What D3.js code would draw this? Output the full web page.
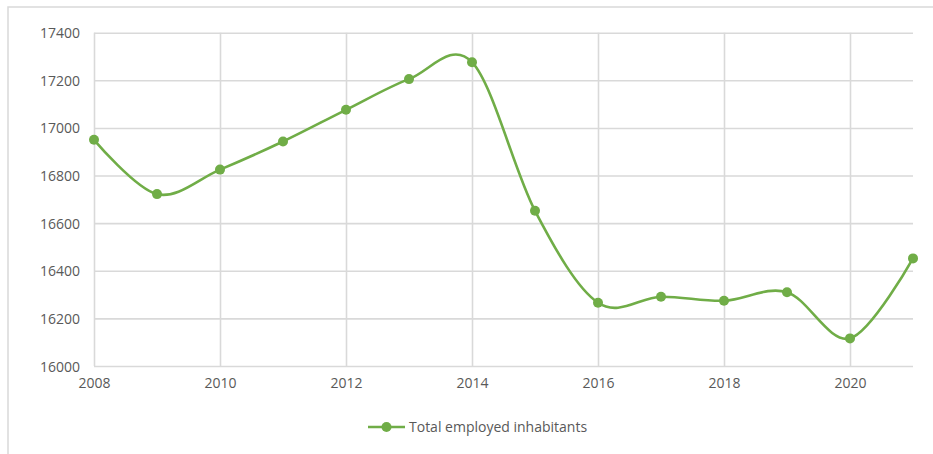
<!DOCTYPE html>
<html>
<head>
<meta charset="utf-8">
<script src="https://cdn.jsdelivr.net/npm/d3@7"></script>
<style>
  html, body { margin: 0; padding: 0; background: #fff; }
  svg { display: block; }
  text { font-family: "Open Sans", "Noto Sans", sans-serif; fill: #595959; }
</style>
</head>
<body>
<svg id="chart" width="933" height="454"></svg>
<script>
// Total employed inhabitants per year
const years = [2008, 2009, 2010, 2011, 2012, 2013, 2014, 2015, 2016, 2017, 2018, 2019, 2020, 2021];
const employed = [16950, 16722, 16825, 16943, 17076, 17205, 17276, 16652, 16266, 16291, 16274, 16310, 16116, 16452];
const yTicks = [16000, 16200, 16400, 16600, 16800, 17000, 17200, 17400];
const xTicks = [2008, 2010, 2012, 2014, 2016, 2018, 2020];
const seriesName = "Total employed inhabitants";

const green = "#70ad47";
const gridColor = "#d9d9d9";

const svg = d3.select("#chart");
const margin = { left: 94, right: 20, top: 32.7, bottom: 88 };
const W = 933, H = 454;

const x = d3.scaleLinear().domain([2008, 2021]).range([margin.left, 913]);
const y = d3.scaleLinear().domain([16000, 17400]).range([366, 32.7]);

// chart frame
svg.append("path")
  .attr("d", `M8,${H + 2} L8,7 L${W + 2},7`)
  .attr("fill", "none")
  .attr("stroke", gridColor)
  .attr("stroke-width", 1.5);

// horizontal gridlines + y labels
const yAxis = d3.axisLeft(y).tickValues(yTicks).tickSize(-(x.range()[1] - x.range()[0])).tickPadding(14).tickFormat(d3.format("d"));
const gy = svg.append("g").attr("transform", `translate(${margin.left},0)`).call(yAxis);
gy.select(".domain").remove();
gy.selectAll(".tick line").attr("stroke", gridColor).attr("stroke-width", 1.6);
gy.selectAll(".tick text").attr("font-size", 14).attr("fill", "#595959").attr("dy", "0.36em")
  .style("font-family", '"Open Sans", "Noto Sans", sans-serif');

// vertical gridlines + x labels
const xAxis = d3.axisBottom(x).tickValues(xTicks).tickSize(-(y.range()[0] - y.range()[1])).tickPadding(12).tickFormat(d3.format("d"));
const gx = svg.append("g").attr("transform", `translate(0,${y(16000)})`).call(xAxis);
gx.select(".domain").remove();
gx.selectAll(".tick line").attr("stroke", gridColor).attr("stroke-width", 1.6);
gx.selectAll(".tick text").attr("font-size", 14).attr("fill", "#595959")
  .style("font-family", '"Open Sans", "Noto Sans", sans-serif');

// smoothed series line
const data = years.map((yr, i) => ({ yr, v: employed[i] }));
const line = d3.line()
  .x(d => x(d.yr))
  .y(d => y(d.v))
  .curve(d3.curveCardinal.tension(0));

svg.append("path")
  .datum(data)
  .attr("d", line)
  .attr("fill", "none")
  .attr("stroke", green)
  .attr("stroke-width", 2.6)
  .attr("stroke-linejoin", "round");

svg.append("g").selectAll("circle")
  .data(data)
  .join("circle")
  .attr("cx", d => x(d.yr))
  .attr("cy", d => y(d.v))
  .attr("r", 5)
  .attr("fill", green);

// legend
const lg = svg.append("g").attr("transform", "translate(368,427)");
lg.append("line").attr("x1", 0).attr("x2", 37).attr("y1", 0).attr("y2", 0)
  .attr("stroke", green).attr("stroke-width", 2.6);
lg.append("circle").attr("cx", 18.5).attr("cy", 0).attr("r", 5).attr("fill", green);
lg.append("text").attr("x", 41).attr("y", 0).attr("dy", "0.35em")
  .attr("font-size", 14).text(seriesName);
</script>
</body>
</html>
